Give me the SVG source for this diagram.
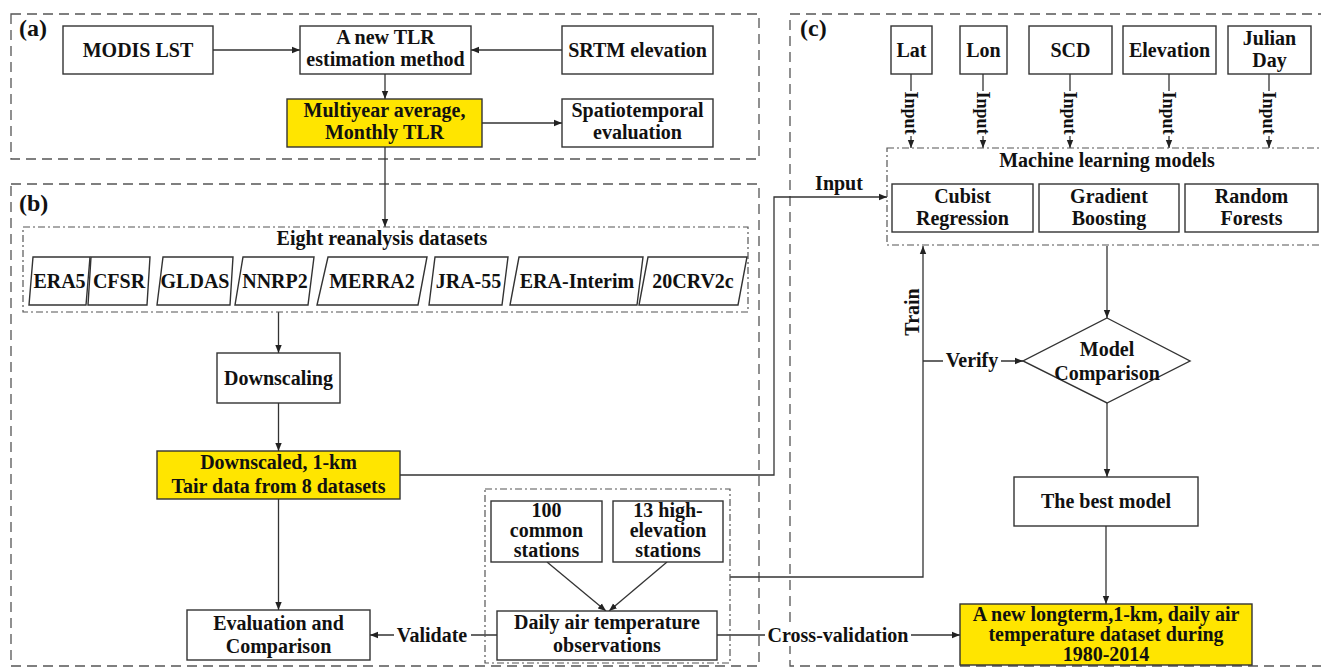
<svg xmlns="http://www.w3.org/2000/svg" width="1321" height="669" viewBox="0 0 1321 669">
<style>
text{font-family:"Liberation Serif","Times New Roman",serif;font-weight:bold;font-size:20px;fill:#111;text-anchor:middle}
.lbl{font-size:24px;text-anchor:start}
.box{fill:#fff;stroke:#333;stroke-width:1.4}
.yel{fill:#FFE500;stroke:#333;stroke-width:1.4}
.panel{fill:none;stroke:#555;stroke-width:1.3;stroke-dasharray:10 6}
.grp{fill:none;stroke:#555;stroke-width:1.2;stroke-dasharray:7 3 2 3}
.ln{fill:none;stroke:#333;stroke-width:1.3}
.arr{fill:none;stroke:#333;stroke-width:1.3;marker-end:url(#ah)}
.bg{fill:#fff}
</style>
<defs>
<marker id="ah" viewBox="0 0 10 10" refX="10" refY="5" markerWidth="8" markerHeight="8" markerUnits="userSpaceOnUse" orient="auto">
<path d="M0,1 L10,5 L0,9 z" fill="#222"/>
</marker>
</defs>
<rect width="1321" height="669" fill="#fff"/>

<g id="panels">
<rect class="panel" x="11" y="14" width="748" height="145"/>
<rect class="panel" x="11" y="184" width="748" height="482"/>
<rect class="panel" x="790" y="14" width="540" height="652"/>
<text class="lbl" x="19" y="36">(a)</text>
<text class="lbl" x="19" y="211">(b)</text>
<text class="lbl" x="800" y="36">(c)</text>
</g>

<g id="connectors">
<path class="arr" d="M213,50 H300"/>
<path class="arr" d="M562,50 H471"/>
<path class="arr" d="M385,74 V99"/>
<path class="arr" d="M482,123 H562"/>
<path class="arr" d="M385,147 V227"/>
<path class="arr" d="M278.5,312 V353"/>
<path class="arr" d="M278.5,403 V451"/>
<path class="arr" d="M278.5,499 V610"/>
<path class="arr" d="M400,475 H774 V197 H887"/>
<path class="arr" d="M730,577 H923 V246"/>
<path class="arr" d="M923,361 H1023"/>
<path class="arr" d="M1107,246 V318"/>
<path class="arr" d="M1107,403 V477"/>
<path class="arr" d="M1106,526 V604"/>
<path class="arr" d="M497,635 H370"/>
<path class="arr" d="M717,635 H960"/>
<path class="arr" d="M547,562 L606,611"/>
<path class="arr" d="M667,562 L609,611"/>
<path class="arr" d="M911,74 V148"/>
<path class="arr" d="M983,74 V148"/>
<path class="arr" d="M1070,74 V148"/>
<path class="arr" d="M1169,74 V148"/>
<path class="arr" d="M1269,74 V148"/>
<rect class="bg" x="904" y="91" width="14" height="45"/>
<rect class="bg" x="976" y="91" width="14" height="45"/>
<rect class="bg" x="1063" y="91" width="14" height="45"/>
<rect class="bg" x="1162" y="91" width="14" height="45"/>
<rect class="bg" x="1262" y="91" width="14" height="45"/>
<text transform="translate(911,113) rotate(90)" dy="0.35em" style="font-size:18px">Input</text>
<text transform="translate(983,113) rotate(90)" dy="0.35em" style="font-size:18px">Input</text>
<text transform="translate(1070,113) rotate(90)" dy="0.35em" style="font-size:18px">Input</text>
<text transform="translate(1169,113) rotate(90)" dy="0.35em" style="font-size:18px">Input</text>
<text transform="translate(1269,113) rotate(90)" dy="0.35em" style="font-size:18px">Input</text>
<text x="839" y="190">Input</text>
<text transform="translate(912,312) rotate(-90)" dy="0.35em">Train</text>
<rect class="bg" x="943" y="350" width="58" height="22"/>
<text x="972" y="367">Verify</text>
<rect class="bg" x="394" y="624" width="77" height="22"/>
<text x="432" y="642">Validate</text>
<rect class="bg" x="765" y="624" width="146" height="22"/>
<text x="838" y="642">Cross-validation</text>
</g>

<g id="modis-lst"><rect class="box" x="63" y="26" width="150" height="48"/><text x="138" y="57">MODIS LST</text></g>
<g id="tlr-method"><rect class="box" x="300" y="26" width="171" height="48"/><text x="385.5" y="44">A new TLR</text><text x="385.5" y="66">estimation method</text></g>
<g id="srtm"><rect class="box" x="562" y="26" width="151" height="48"/><text x="637.5" y="57">SRTM elevation</text></g>
<g id="monthly-tlr"><rect class="yel" x="287" y="99" width="195" height="48"/><text x="384.5" y="117">Multiyear average,</text><text x="384.5" y="139">Monthly TLR</text></g>
<g id="spatiotemporal"><rect class="box" x="562" y="99" width="151" height="48"/><text x="637.5" y="117">Spatiotemporal</text><text x="637.5" y="139">evaluation</text></g>

<g id="reanalysis">
<rect class="grp" x="23" y="227" width="725" height="85"/>
<text x="382" y="245">Eight reanalysis datasets</text>
<g id="ds-era5"><path class="box" d="M33,257 H90 L86,305 H29 Z"/><text x="59.5" y="288">ERA5</text></g>
<g id="ds-cfsr"><path class="box" d="M91,257 H150 L147,305 H88 Z"/><text x="119" y="288">CFSR</text></g>
<g id="ds-gldas"><path class="box" d="M163,257 H233 L230,305 H157 Z"/><text x="195" y="288">GLDAS</text></g>
<g id="ds-nnrp2"><path class="box" d="M243,257 H314 L308,305 H235 Z"/><text x="275" y="288">NNRP2</text></g>
<g id="ds-merra2"><path class="box" d="M328,257 H427 L418,305 H317 Z"/><text x="372" y="288">MERRA2</text></g>
<g id="ds-jra55"><path class="box" d="M435,257 H508 L502,305 H429 Z"/><text x="468.5" y="288">JRA-55</text></g>
<g id="ds-erainterim"><path class="box" d="M519,257 H643 L637,305 H510 Z"/><text x="577" y="288">ERA-Interim</text></g>
<g id="ds-20crv2c"><path class="box" d="M648,257 H747 L738,305 H639 Z"/><text x="693" y="288">20CRV2c</text></g>
</g>

<g id="downscaling"><rect class="box" x="217" y="353" width="123" height="50"/><text x="278.5" y="385">Downscaling</text></g>
<g id="downscaled"><rect class="yel" x="157" y="451" width="243" height="48"/><text x="278.5" y="469">Downscaled, 1-km</text><text x="278.5" y="493">Tair data from 8 datasets</text></g>
<g id="evaluation"><rect class="box" x="187" y="610" width="183" height="50"/><text x="278.5" y="630">Evaluation and</text><text x="278.5" y="653">Comparison</text></g>

<g id="stations">
<rect class="grp" x="485" y="489" width="245" height="174"/>
<g id="common-stations"><rect class="box" x="491" y="501" width="111" height="61"/><text x="546.5" y="517">100</text><text x="546.5" y="537">common</text><text x="546.5" y="557">stations</text></g>
<g id="high-stations"><rect class="box" x="613" y="501" width="110" height="61"/><text x="668" y="517">13 high-</text><text x="668" y="537">elevation</text><text x="668" y="557">stations</text></g>
<g id="daily-obs"><rect class="box" x="497" y="611" width="220" height="49"/><text x="607" y="629">Daily air temperature</text><text x="607" y="652">observations</text></g>
</g>

<g id="lat"><rect class="box" x="891" y="26" width="41" height="48"/><text x="911.5" y="57">Lat</text></g>
<g id="lon"><rect class="box" x="960" y="26" width="47" height="48"/><text x="983.5" y="57">Lon</text></g>
<g id="scd"><rect class="box" x="1029" y="26" width="83" height="48"/><text x="1070.5" y="57">SCD</text></g>
<g id="elevation"><rect class="box" x="1123" y="26" width="93" height="48"/><text x="1169.5" y="57">Elevation</text></g>
<g id="julian-day"><rect class="box" x="1228" y="26" width="83" height="48"/><text x="1269.5" y="45">Julian</text><text x="1269.5" y="67">Day</text></g>

<g id="ml-models">
<rect class="grp" x="887" y="148" width="445" height="97"/>
<text x="1107" y="167">Machine learning models</text>
<g id="cubist"><rect class="box" x="892" y="184" width="141" height="48"/><text x="962.5" y="203">Cubist</text><text x="962.5" y="225">Regression</text></g>
<g id="gradient"><rect class="box" x="1039" y="184" width="140" height="48"/><text x="1109" y="203">Gradient</text><text x="1109" y="225">Boosting</text></g>
<g id="random-forests"><rect class="box" x="1185" y="184" width="133" height="48"/><text x="1251.5" y="203">Random</text><text x="1251.5" y="225">Forests</text></g>
</g>

<g id="model-comparison"><path class="box" d="M1107,318 L1190,361 L1107,403 L1023,361 Z"/><text x="1107" y="356">Model</text><text x="1107" y="380">Comparison</text></g>
<g id="best-model"><rect class="box" x="1014" y="477" width="184" height="49"/><text x="1106" y="508">The best model</text></g>
<g id="final-dataset"><rect class="yel" x="960" y="604" width="292" height="61"/><text x="1106" y="621">A new longterm,1-km, daily air</text><text x="1106" y="641">temperature dataset during</text><text x="1106" y="661">1980-2014</text></g>
</svg>
